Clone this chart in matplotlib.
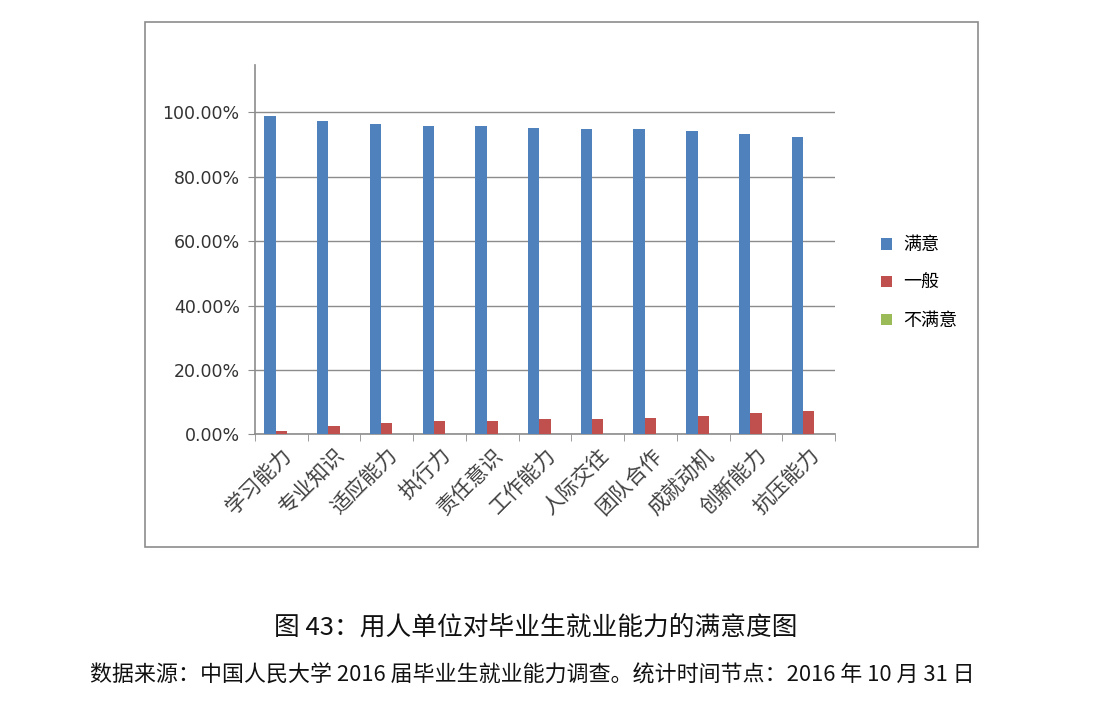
import matplotlib
matplotlib.use("Agg")

import matplotlib.pyplot as plt
import numpy as np
from matplotlib.patches import Rectangle
from matplotlib.ticker import FuncFormatter

plt.rcParams["font.family"] = ["Noto Sans CJK SC", "DejaVu Sans"]

categories = ["学习能力", "专业知识", "适应能力", "执行力", "责任意识", "工作能力",
              "人际交往", "团队合作", "成就动机", "创新能力", "抗压能力"]
satisfied = [0.988, 0.973, 0.963, 0.957, 0.957, 0.952, 0.947, 0.947, 0.942, 0.933, 0.922]
average = [0.010, 0.026, 0.036, 0.041, 0.041, 0.046, 0.046, 0.052, 0.057, 0.067, 0.072]
unsatisfied = [0.001, 0.001, 0.001, 0.001, 0.001, 0.001, 0.001, 0.001, 0.001, 0.000, 0.001]
series_names = ["满意", "一般", "不满意"]
colors = ["#4F81BD", "#C0504D", "#9BBB59"]

W, H = 1098, 722
fig = plt.figure(figsize=(W / 100, H / 100), dpi=100)

# outer chart frame
fig.patches.append(Rectangle((145 / W, 1 - 547 / H), (978 - 145) / W, (547 - 22) / H,
                             transform=fig.transFigure, fill=False,
                             edgecolor="#8c8c8c", linewidth=1.2))

ax = fig.add_axes([255 / W, 1 - 434.3 / H, 580 / W, (434.3 - 65) / H])
x = np.arange(len(categories))
bw = 0.215
for i, (vals, name, col) in enumerate(zip([satisfied, average, unsatisfied], series_names, colors)):
    ax.bar(x + (i - 1) * bw, vals, width=bw, color=col, label=name, zorder=3)

ax.set_xlim(-0.5, len(categories) - 0.5)
ax.set_ylim(0, 1.147)
ax.set_yticks(np.arange(0, 1.01, 0.2))
ax.yaxis.set_major_formatter(FuncFormatter(lambda v, _: f"{v * 100:.2f}%"))
ax.grid(axis="y", color="#8c8c8c", linewidth=1, zorder=0)

for side in ["top", "right"]:
    ax.spines[side].set_visible(False)
for side in ["left", "bottom"]:
    ax.spines[side].set_color("#8c8c8c")
    ax.spines[side].set_linewidth(1.2)

ax.tick_params(axis="y", length=5, color="#8c8c8c", labelsize=12.5, labelcolor="#333333", pad=6)
for lab in ax.get_yticklabels():
    lab.set_family("DejaVu Sans")

ax.set_xticks(x)
ax.set_xticklabels(categories, rotation=45, ha="right", rotation_mode="anchor",
                   fontsize=15, color="#404040")
ax.tick_params(axis="x", length=0, pad=7)
ax.set_xticks(np.arange(-0.5, len(categories)), minor=True)
ax.tick_params(axis="x", which="minor", length=5, color="#8c8c8c")

ax.legend(loc="center left", bbox_to_anchor=(865 / W, 1 - 283 / H),
          bbox_transform=fig.transFigure, frameon=False, fontsize=13,
          handlelength=0.6, handleheight=0.6, handletextpad=0.6, labelspacing=1.1)

fig.text(536 / W, 1 - 628 / H, "图 43：用人单位对毕业生就业能力的满意度图",
         ha="center", va="center", fontsize=18.5, color="#111111")
fig.text(532 / W, 1 - 676 / H,
         "数据来源：中国人民大学 2016 届毕业生就业能力调查。统计时间节点：2016 年 10 月 31 日",
         ha="center", va="center", fontsize=15.8, color="#111111")

fig.savefig("out.png", dpi=100, facecolor="white")
